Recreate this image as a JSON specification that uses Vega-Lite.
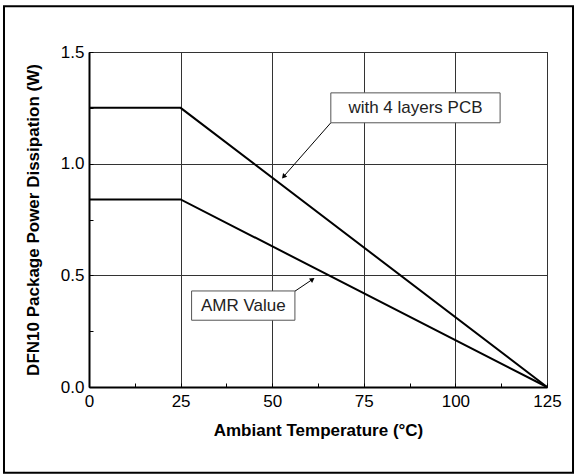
{
  "$schema": "https://vega.github.io/schema/vega-lite/v6.json",
  "width": 458,
  "height": 335,
  "autosize": {"type": "none"},
  "padding": {"left": 89, "top": 52, "right": 28, "bottom": 88},
  "background": "white",
  "config": {
    "font": "Liberation Sans",
    "view": {"stroke": "black", "strokeWidth": 1}
  },
  "datasets": {
    "curves": [
      {"series": "with 4 layers PCB", "temp": 0, "power": 1.25},
      {"series": "with 4 layers PCB", "temp": 25, "power": 1.25},
      {"series": "with 4 layers PCB", "temp": 125, "power": 0},
      {"series": "AMR Value", "temp": 0, "power": 0.84},
      {"series": "AMR Value", "temp": 25, "power": 0.84},
      {"series": "AMR Value", "temp": 125, "power": 0}
    ],
    "notes": [
      {"label": "with 4 layers PCB", "x1": 66.0, "x2": 112.2, "y1": 1.317, "y2": 1.183, "tx": 89.1, "ty": 1.25, "ax": 66.0, "ay": 1.183, "hx": 53.1, "hy": 0.942, "angle": 221},
      {"label": "AMR Value", "x1": 28.0, "x2": 56.2, "y1": 0.430, "y2": 0.299, "tx": 42.1, "ty": 0.364, "ax": 56.2, "ay": 0.429, "hx": 61.0, "hy": 0.482, "angle": 55}
    ]
  },
  "layer": [
    {
      "data": {"values": [{}]},
      "mark": {"type": "rect", "fill": null, "stroke": "black", "strokeWidth": 2, "clip": false},
      "encoding": {
        "x": {"datum": -23.2, "type": "quantitative", "scale": {"domain": [0, 125]}},
        "x2": {"datum": 132.1},
        "y": {"datum": 1.705, "type": "quantitative", "scale": {"domain": [0, 1.5]}},
        "y2": {"datum": -0.384}
      }
    },
    {
      "data": {"name": "curves"},
      "mark": {"type": "line", "color": "black", "strokeWidth": 2},
      "encoding": {
        "x": {
          "field": "temp", "type": "quantitative",
          "scale": {"domain": [0, 125], "nice": false},
          "axis": {
            "values": [0, 12.5, 25, 37.5, 50, 62.5, 75, 87.5, 100, 112.5, 125],
            "title": "Ambiant Temperature (°C)",
            "titleFontSize": 17, "titleFontWeight": "bold", "titleColor": "black", "titlePadding": 13,
            "labelFontSize": 17, "labelColor": "black", "labelPadding": 10, "labelFlush": false,
            "labelExpr": "datum.value % 25 === 0 ? datum.label : ''",
            "domainColor": "black", "domainWidth": 2,
            "tickColor": "black", "tickSize": -4, "tickWidth": 1,
            "grid": true, "gridColor": "#333", "gridWidth": 1,
            "gridOpacity": {"condition": {"test": "datum.value % 25 === 0", "value": 1}, "value": 0}
          }
        },
        "y": {
          "field": "power", "type": "quantitative",
          "scale": {"domain": [0, 1.5], "nice": false},
          "axis": {
            "values": [0, 0.25, 0.5, 0.75, 1, 1.25, 1.5],
            "format": ".1f",
            "title": "DFN10 Package Power Dissipation (W)",
            "titleFontSize": 17, "titleFontWeight": "bold", "titleColor": "black", "titlePadding": 18,
            "labelFontSize": 17, "labelColor": "black", "labelPadding": 9, "labelFlush": false,
            "labelExpr": "datum.value % 0.5 === 0 ? datum.label : ''",
            "domainColor": "black", "domainWidth": 2,
            "tickColor": "black", "tickSize": -4, "tickWidth": 1,
            "grid": true, "gridColor": "#333", "gridWidth": 1,
            "gridOpacity": {"condition": {"test": "datum.value % 0.5 === 0", "value": 1}, "value": 0}
          }
        },
        "detail": {"field": "series"}
      }
    },
    {
      "data": {"name": "notes"},
      "mark": {"type": "rule", "color": "black", "strokeWidth": 1},
      "encoding": {
        "x": {"field": "ax", "type": "quantitative"},
        "y": {"field": "ay", "type": "quantitative"},
        "x2": {"field": "hx"},
        "y2": {"field": "hy"}
      }
    },
    {
      "data": {"name": "notes"},
      "mark": {"type": "point", "shape": "triangle-up", "filled": true, "color": "black", "size": 30, "opacity": 1},
      "encoding": {
        "x": {"field": "hx", "type": "quantitative"},
        "y": {"field": "hy", "type": "quantitative"},
        "angle": {"field": "angle", "type": "quantitative", "scale": null}
      }
    },
    {
      "data": {"name": "notes"},
      "mark": {"type": "rect", "fill": "white", "stroke": "#555", "strokeWidth": 1},
      "encoding": {
        "x": {"field": "x1", "type": "quantitative"},
        "x2": {"field": "x2"},
        "y": {"field": "y1", "type": "quantitative"},
        "y2": {"field": "y2"}
      }
    },
    {
      "data": {"name": "notes"},
      "mark": {"type": "text", "fontSize": 17, "color": "#222", "align": "center", "baseline": "middle"},
      "encoding": {
        "x": {"field": "tx", "type": "quantitative"},
        "y": {"field": "ty", "type": "quantitative"},
        "text": {"field": "label"}
      }
    }
  ]
}
